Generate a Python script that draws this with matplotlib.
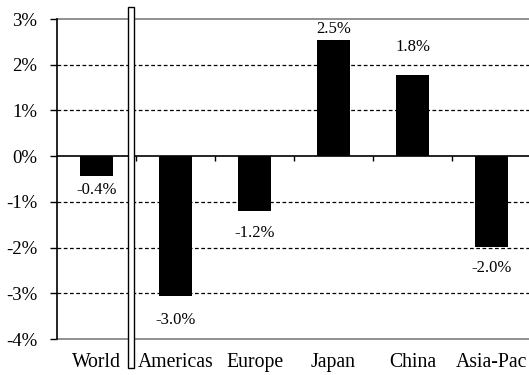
import numpy as np
import matplotlib
matplotlib.use("Agg")
import matplotlib.pyplot as plt
from matplotlib.patches import Rectangle

plt.rcParams["font.family"] = ["Liberation Serif", "DejaVu Serif"]

regions = ["World", "Americas", "Europe", "Japan", "China", "Asia-Pac"]
growth = [-0.43, -3.05, -1.20, 2.54, 1.78, -1.99]
yticks = [-4, -3, -2, -1, 0, 1, 2, 3]

# distancia (px) de cada etiqueta al extremo de su barra
label_pad = [14, 24, 22, 11, 28, 21]

W, H = 529, 375
fig = plt.figure(figsize=(W / 100, H / 100), dpi=100)
ax = fig.add_axes([57 / W, 1 - 339 / H, (531 - 57) / W, (339 - 19) / H])

x = np.arange(len(regions))
ax.bar(x, growth, width=0.42, color="black", zorder=3)

ax.set_xlim(-0.5, len(regions) - 0.5)
ax.set_ylim(-4, 3)
ax.set_yticks(yticks)
ax.set_yticklabels([f"{t}%" for t in yticks], fontsize=13.5)
ax.tick_params(axis="y", length=5, width=1, pad=9, direction="out")

# rejilla interior discontinua negra
for t in yticks[1:-1]:
    if t != 0:
        ax.axhline(t, color="black", lw=0.9, ls=(0, (3, 2)), zorder=1)
ax.axhline(0, color="black", lw=1.2, zorder=4)

for s in ["top", "bottom"]:
    ax.spines[s].set_color("#888888")
    ax.spines[s].set_linestyle((0, (2, 1)))
    ax.spines[s].set_linewidth(1.3)
ax.spines["right"].set_visible(False)
ax.spines["left"].set_linewidth(1.2)
ax.spines["left"].set_zorder(5)

# marcas del eje de categorias sobre el cero
ax.set_xticks([])
bounds = x[:-1] + 0.5
ax.vlines(bounds, -0.11, 0, color="black", lw=1, zorder=4)

for i, name in enumerate(regions):
    ax.text(i, -0.074, name, transform=ax.get_xaxis_transform(), ha="center",
            va="center", fontsize=14.2)

for i, v in enumerate(growth):
    off = label_pad[i] * 0.72
    ax.annotate(f"{v:.1f}%", (i, v), xytext=(0, off if v > 0 else -off),
                textcoords="offset points", ha="center", va="center", fontsize=12)

# separador blanco entre World y el resto
fig.patches.append(Rectangle((128 / W, 1 - 368 / H), 5.5 / W, (368 - 7) / H,
                             transform=fig.transFigure, facecolor="white",
                             edgecolor="black", lw=1, zorder=10))

fig.savefig("out.png", dpi=100)
